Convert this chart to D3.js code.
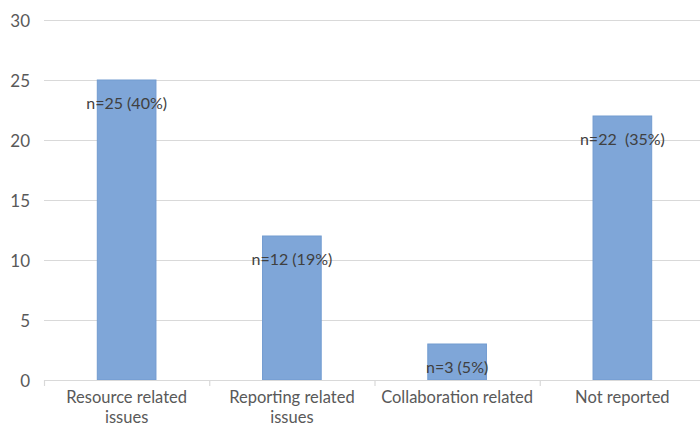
<!DOCTYPE html>
<html><head><meta charset="utf-8">
<script src="https://cdn.jsdelivr.net/npm/d3@7"></script>
<style>body{margin:0;background:#fff}svg{display:block}text{font-family:Lato,"Open Sans",sans-serif}</style>
</head><body><svg id="c" width="700" height="427"></svg>
<script>
const categories = [["Resource related","issues"],["Reporting related","issues"],["Collaboration related"],["Not reported"]];
const values = [25, 12, 3, 22];
const labels = ["n=25 (40%)", "n=12 (19%)", "n=3 (5%)", "n=22  (35%)"];
const yTicks = [0, 5, 10, 15, 20, 25, 30];

const svg = d3.select("#c");
const x = d3.scaleBand().domain(d3.range(values.length)).range([44, 705]).padding(0);
const y = d3.scaleLinear().domain([0, 30]).range([380, 20]);
const barW = x.bandwidth() * 0.355;

// gridlines
svg.append("g").selectAll("line").data(yTicks.filter(t => t > 0)).join("line")
  .attr("x1", 44).attr("x2", 700).attr("y1", d => y(d) + 0.5).attr("y2", d => y(d) + 0.5)
  .attr("stroke", "#d9d9d9").attr("stroke-width", 1.2);

// y labels
svg.append("g").selectAll("text").data(yTicks).join("text")
  .attr("x", 30).attr("y", d => y(d) + 1).attr("dy", "0.35em").attr("text-anchor", "end")
  .attr("font-size", 17).attr("fill", "#595959").text(d => d);

// bars
svg.append("g").selectAll("rect").data(values).join("rect")
  .attr("x", (d, i) => x(i) + x.bandwidth() / 2 - barW / 2)
  .attr("width", barW)
  .attr("y", d => y(d)).attr("height", d => y(0) - y(d))
  .attr("fill", "#7fa6d8").attr("stroke", "#729bd0").attr("stroke-width", 1);

// x axis line and ticks
svg.append("line").attr("x1", 44).attr("x2", 700).attr("y1", 380.5).attr("y2", 380.5)
  .attr("stroke", "#d9d9d9").attr("stroke-width", 1.2);
svg.append("g").selectAll("line").data(d3.range(values.length + 1)).join("line")
  .attr("x1", i => (i < values.length ? x(i) : 705) + 0.5).attr("x2", i => (i < values.length ? x(i) : 705) + 0.5)
  .attr("y1", 380).attr("y2", 386).attr("stroke", "#d9d9d9").attr("stroke-width", 1.2);

// data labels
svg.append("g").selectAll("text").data(values).join("text")
  .attr("x", (d, i) => x(i) + x.bandwidth() / 2)
  .attr("y", d => y(d) + 23).attr("dy", "0.35em").attr("text-anchor", "middle")
  .attr("font-size", 16).attr("fill", "#404040").style("white-space", "pre")
  .text((d, i) => labels[i]);

// category labels
const cl = svg.append("g").selectAll("text").data(categories).join("text")
  .attr("x", (d, i) => x(i) + x.bandwidth() / 2).attr("y", 403)
  .attr("text-anchor", "middle").attr("font-size", 16.5).attr("fill", "#595959");
cl.selectAll("tspan").data(d => d).join("tspan")
  .attr("x", function() { return d3.select(this.parentNode).attr("x"); })
  .attr("dy", (d, j) => j === 0 ? 0 : 20).text(d => d);
</script></body></html>
